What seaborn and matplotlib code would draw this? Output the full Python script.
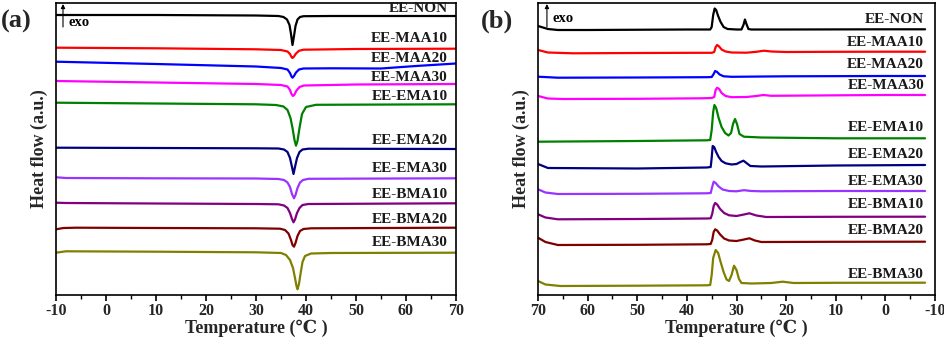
import numpy as np
import pandas as pd
import matplotlib
matplotlib.use("Agg")
import matplotlib.pyplot as plt
import seaborn as sns
from matplotlib.ticker import MultipleLocator

sns.set_theme(style="white")
plt.rcParams['font.family'] = ['Liberation Serif', 'DejaVu Serif']
plt.rcParams['font.weight'] = 'bold'

samples = ["EE-NON", "EE-MAA10", "EE-MAA20", "EE-MAA30", "EE-EMA10",
           "EE-EMA20", "EE-EMA30", "EE-BMA10", "EE-BMA20", "EE-BMA30"]
colors = ["#000000", "#FF0000", "#0000FF", "#FF00FF", "#008000",
          "#000080", "#9933FF", "#800080", "#800000", "#808000"]

# ---------- panel (a): heating, heat flow (a.u., offset, up = exo) ----------
a_T = {
    "EE-NON":   [-10, 10, 30, 34.5, 35.5, 36.2, 36.7, 37.0, 37.3, 37.6, 37.9, 38.3, 38.8, 39.5, 45, 70],
    "EE-MAA10": [-10, 10, 30, 35, 36.3, 36.8, 37.1, 37.3, 37.6, 38.0, 38.6, 39.5, 50, 70],
    "EE-MAA20": [-10, 10, 30, 35, 36.3, 36.8, 37.1, 37.3, 37.6, 38.0, 38.6, 39.5, 45, 55, 62, 70],
    "EE-MAA30": [-10, 10, 30, 35, 36.3, 36.8, 37.1, 37.4, 37.7, 38.1, 38.7, 39.6, 50, 70],
    "EE-EMA10": [-10, 10, 30, 34, 35.5, 36.3, 36.9, 37.3, 37.7, 38.0, 38.3, 38.7, 39.2, 40, 42, 70],
    "EE-EMA20": [-10, 10, 30, 34.5, 35.6, 36.3, 36.8, 37.2, 37.5, 37.8, 38.2, 38.7, 39.3, 40.5, 70],
    "EE-EMA30": [-10, -8, 10, 30, 34.5, 35.6, 36.3, 36.8, 37.2, 37.6, 37.9, 38.3, 38.8, 39.4, 40.5, 70],
    "EE-BMA10": [-10, -8, 10, 30, 34.5, 35.6, 36.3, 36.8, 37.2, 37.5, 37.8, 38.2, 38.7, 39.3, 40.5, 70],
    "EE-BMA20": [-10, -8.5, -6, 10, 30, 34.8, 35.8, 36.5, 37.0, 37.3, 37.6, 37.9, 38.3, 38.8, 39.5, 41, 70],
    "EE-BMA30": [-10, -8, 10, 30, 35, 36.0, 36.8, 37.4, 37.8, 38.1, 38.3, 38.6, 38.9, 39.3, 39.8, 41, 45, 70],
}
a_HF = {
    "EE-NON":   [-15, -15, -15.5, -16, -17, -19.5, -25, -34, -45, -36, -26, -19.5, -17, -16.2, -16, -16],
    "EE-MAA10": [-47.7, -48.3, -49.3, -50, -51.5, -54, -57, -58, -56.5, -53.5, -50.8, -49.7, -49, -48.7],
    "EE-MAA20": [-61.7, -64, -66.5, -68, -69.5, -73, -76.5, -77.7, -76, -72.5, -69.5, -68.5, -68.3, -68.5, -66, -63.5],
    "EE-MAA30": [-81, -82.5, -84, -85, -86.5, -90, -94, -96, -94.5, -90.5, -87, -85.5, -84.5, -84],
    "EE-EMA10": [-102.7, -103.5, -104.3, -105, -106.5, -110, -118, -128, -140, -145.7, -141, -128, -114, -107, -104.8, -104.3],
    "EE-EMA20": [-147.7, -148, -148.3, -148.5, -149.5, -152, -158, -167, -174, -167, -158, -152, -149.5, -148.7, -149],
    "EE-EMA30": [-177.3, -178, -178.3, -178.5, -179, -180, -182.5, -187, -194, -198.3, -195, -188, -182.5, -180, -178.8, -178.3],
    "EE-BMA10": [-202.7, -203, -203.5, -204, -204.3, -205.5, -208, -213, -219, -222.3, -219.5, -213, -208, -205, -204, -203.3],
    "EE-BMA20": [-229.3, -228, -227.7, -228, -228.3, -228.7, -230, -233.5, -240, -245, -246.7, -243, -236, -231, -229, -228.3, -227.7],
    "EE-BMA30": [-252.7, -251.3, -251.7, -252.3, -253, -255, -260, -268, -278, -286, -289.3, -284, -274, -262, -256, -253.5, -253, -252.7],
}
a_label_y = [-9, -39, -58.3, -77.5, -96.7, -140, -168, -195, -219.3, -242.7]

# ---------- panel (b): cooling ----------
b_T = {
    "EE-NON":   [70, 68, 66, 60, 40, 35.3, 35.0, 34.7, 34.4, 34.1, 33.7, 33.2, 32.6, 31.8, 30, 29.0, 28.6, 28.3, 28.0, 27.6, 27.0, 20, 0, -8],
    "EE-MAA10": [70, 68, 63, 50, 38, 35, 34.5, 34.2, 33.9, 33.5, 33.0, 32.2, 31, 28, 26, 24.5, 23, 20, 10, 0, -8],
    "EE-MAA20": [70, 66, 50, 36, 35.0, 34.6, 34.3, 33.9, 33.4, 32.6, 31, 20, 0, -8],
    "EE-MAA30": [70, 68, 65, 50, 37, 35.0, 34.5, 34.2, 33.9, 33.5, 33.0, 32.2, 31, 28, 26, 24.6, 23, 15, 0, -8],
    "EE-EMA10": [70, 50, 36, 35.3, 35.0, 34.7, 34.45, 34.1, 33.6, 33.0, 32.3, 31.6, 31.1, 30.7, 30.3, 29.9, 29.4, 28.5, 25, 10, -8],
    "EE-EMA20": [70, 68, 50, 36, 35.2, 35.0, 34.8, 34.5, 34.1, 33.6, 33.0, 32.2, 31, 30, 29.2, 28.6, 28.0, 27.2, 25, 10, -8],
    "EE-EMA30": [70, 68.5, 66, 50, 36, 35.2, 34.9, 34.6, 34.2, 33.6, 32.8, 31.5, 30, 28.5, 27, 25, 10, -8],
    "EE-BMA10": [70, 68.5, 66, 50, 36, 35.2, 34.9, 34.6, 34.3, 33.9, 33.3, 32.5, 31.5, 30, 28.5, 27.4, 26, 24, 10, -8],
    "EE-BMA20": [70, 68.5, 66, 50, 36, 35.2, 34.9, 34.6, 34.3, 33.9, 33.3, 32.5, 31.5, 30, 28.5, 27.4, 26.3, 25, 10, -8],
    "EE-BMA30": [70, 68.5, 65.5, 50, 36, 35.3, 35.0, 34.7, 34.2, 33.7, 33.2, 32.6, 32.0, 31.5, 31.0, 30.5, 30.0, 29.5, 29.0, 27, 23, 20.7, 18.5, 10, -8],
}
b_HF = {
    "EE-NON":   [-26, -29, -30, -30, -29.5, -29.5, -27, -15, -8.5, -10, -16, -22, -27, -29, -29.5, -29.5, -25, -19.5, -24, -29, -29.5, -29.5, -29.3, -29.3],
    "EE-MAA10": [-50, -52.5, -53.3, -53, -52.8, -52.8, -52, -47, -45, -46.5, -49.5, -51.5, -52.5, -52.7, -51.8, -50.7, -51.5, -52, -51.8, -51.7, -51.7],
    "EE-MAA20": [-76.7, -77.7, -77.5, -77.2, -77, -74, -71, -72, -74.5, -76.3, -76.8, -76.3, -76, -76],
    "EE-MAA30": [-96, -98.5, -99, -98.8, -98.3, -98, -97, -90, -87.7, -89, -93, -96, -97.2, -97, -96, -95, -95.8, -95.5, -95, -95],
    "EE-EMA10": [-141.7, -141, -140.3, -140, -130, -112, -105, -108, -118, -127, -133, -135.5, -133, -124, -119, -124, -134, -136.7, -137.5, -138.3, -138.3],
    "EE-EMA20": [-164, -168, -168.5, -167.5, -167, -158, -146, -147, -152, -157, -161, -163.3, -164.5, -164, -162, -160.7, -163, -166, -166.5, -165.5, -165],
    "EE-EMA30": [-189.3, -192.5, -194, -193.8, -193.3, -193, -187, -181.7, -183, -186.5, -189.5, -191, -191.3, -190.2, -191, -191.3, -191, -191],
    "EE-BMA10": [-214.3, -217.5, -219.3, -219, -218.5, -218.3, -214, -206, -203, -204.5, -209, -213, -215.3, -216, -214.5, -213.3, -215.5, -217, -216.8, -216.7],
    "EE-BMA20": [-237.7, -242, -245, -244.8, -244.3, -244, -240, -232, -229.3, -230.5, -234.5, -238.5, -240.5, -241, -239.5, -238.3, -240.5, -242, -241.8, -241.7],
    "EE-BMA30": [-281, -284.5, -286, -285.7, -285.3, -285, -275, -258, -250, -253, -262, -272, -279.5, -281, -275, -265.7, -270, -279, -283, -283.5, -283, -281.7, -283, -282.8, -282.7],
}
b_label_y = [-19.3, -42.7, -65, -85.7, -127.7, -154, -181.7, -205, -231, -274]

x_ticks = [-10, 0, 10, 20, 30, 40, 50, 60, 70]


def long_df(Td, Hd):
    rows = []
    for s in samples:
        for t, h in zip(Td[s], Hd[s]):
            rows.append((s, t, h))
    return pd.DataFrame(rows, columns=["sample", "T", "HF"])


W, H = 945, 341
fig = plt.figure(figsize=(W / 100, H / 100), dpi=100)
axA = fig.add_axes([56 / W, (H - 295) / H, 400 / W, 292 / H])
axB = fig.add_axes([538 / W, (H - 295) / H, 397 / W, 292 / H])

pal = dict(zip(samples, colors))
for ax, Td, Hd, ly, xlim, lab_x, arrow_x, exo_x, exo_y, panel, px in [
    (axA, a_T, a_HF, a_label_y, (-10, 70), 68.4, -8.6, -7.4, -23, "(a)", 16),
    (axB, b_T, b_HF, b_label_y, (70, -10), -7.8, 68.2, 67.0, -18, "(b)", 497),
]:
    df = long_df(Td, Hd)
    sns.lineplot(data=df, x="T", y="HF", hue="sample", palette=pal,
                 sort=False, estimator=None, legend=False, lw=1.6, ax=ax)
    ax.set_xlim(*xlim)
    ax.set_ylim(-295, -3)
    ax.set_xticks(x_ticks)
    ax.set_xticklabels([str(v) for v in x_ticks])
    ax.xaxis.set_minor_locator(MultipleLocator(5))
    ax.set_yticks([])
    ax.tick_params(axis="x", which="major", direction="out", length=4, width=1.2,
                   bottom=True, top=False, labelsize=11.5, pad=1.5, color="black")
    ax.tick_params(axis="x", which="minor", direction="out", length=3, width=1.0,
                   bottom=True, top=False, color="black")
    for lbl in ax.get_xticklabels():
        lbl.set_fontweight("bold")
    for sp in ax.spines.values():
        sp.set_color("black")
        sp.set_linewidth(1.2)
    ax.set_xlabel("Temperature (℃ )", fontsize=13, fontweight="bold")
    ax.xaxis.set_label_coords(0.5, -0.085)
    ax.set_ylabel("Heat flow (a.u.)", fontsize=13, fontweight="bold", labelpad=6)
    for s, y in zip(samples, ly):
        ax.text(lab_x, y, s, ha="right", va="center", fontsize=11,
                fontweight="bold", color="#1a1a1a")
    ax.annotate("", xy=(arrow_x, -4), xytext=(arrow_x, -27),
                arrowprops=dict(arrowstyle="-|>", lw=0.8, color="black",
                                mutation_scale=6, shrinkA=0, shrinkB=0))
    ax.text(exo_x, exo_y, "exo", ha="left", va="center", fontsize=10.5,
            fontweight="bold", color="black")
    fig.text(px / W, 1 - 21 / H, panel, ha="center", va="center",
             fontsize=19, fontweight="bold")

fig.savefig("out.png", dpi=100)
